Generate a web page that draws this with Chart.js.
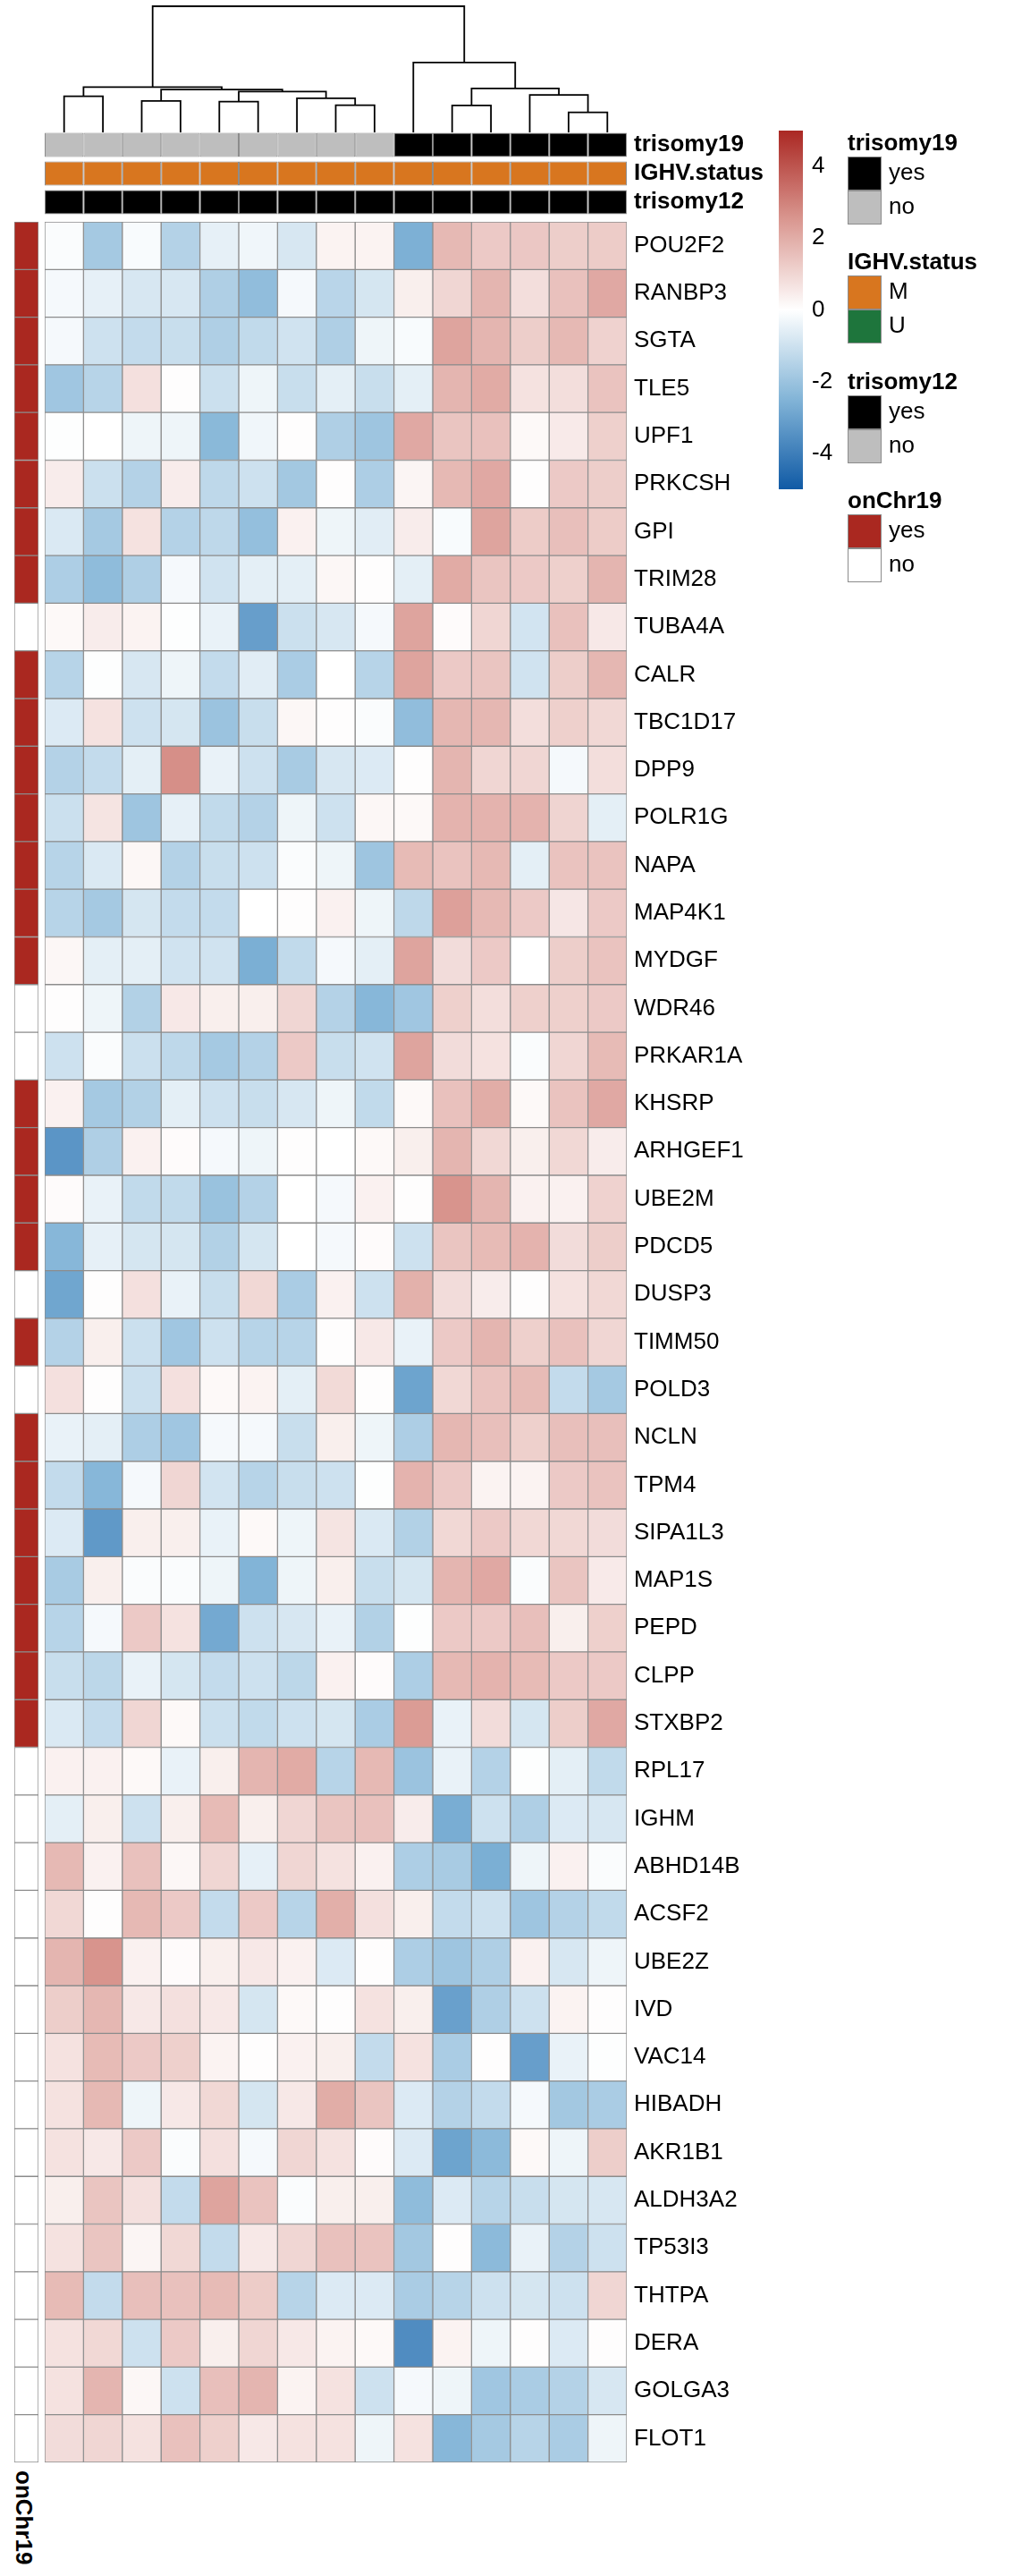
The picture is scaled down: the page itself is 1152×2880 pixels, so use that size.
<!DOCTYPE html>
<html>
<head>
<meta charset="utf-8">
<script src="https://cdn.jsdelivr.net/npm/chart.js@4.4.1/dist/chart.umd.min.js"></script>
<style>
  html, body { margin: 0; padding: 0; background: #fff; }
  body { width: 1152px; height: 2880px; position: relative; overflow: hidden;
         font-family: 'Liberation Sans', Arial, Helvetica, sans-serif; color: #000; }
  canvas { position: absolute; }
  .abs { position: absolute; white-space: nowrap; }
  .lg-title { font-weight: bold; font-size: 26px; line-height: 26px; }
  .lg-box { position: absolute; width: 38px; height: 38px; box-sizing: border-box; border: 1.5px solid #8c8c8c; }
  .lg-label { position: absolute; font-size: 26px; line-height: 38px; }
</style>
</head>
<body>
<canvas id="dendro" width="651" height="148" style="left:50px;top:0px"></canvas>
<canvas id="topAnno" width="901" height="96" style="left:50px;top:146px"></canvas>
<canvas id="heat" width="851" height="2505" style="left:50px;top:248px"></canvas>
<canvas id="chr19" width="27" height="2505" style="left:16px;top:248px"></canvas>
<canvas id="colorbar" width="87" height="401" style="left:871px;top:146px"></canvas>
<div id="legends"></div>
<div class="abs lg-title" style="left:40px;top:2762px;transform-origin:0 0;transform:rotate(90deg)">onChr19</div>

<script>
// ---- data ----
var genes = ['POU2F2', 'RANBP3', 'SGTA', 'TLE5', 'UPF1', 'PRKCSH', 'GPI', 'TRIM28', 'TUBA4A', 'CALR',
  'TBC1D17', 'DPP9', 'POLR1G', 'NAPA', 'MAP4K1', 'MYDGF', 'WDR46', 'PRKAR1A', 'KHSRP', 'ARHGEF1',
  'UBE2M', 'PDCD5', 'DUSP3', 'TIMM50', 'POLD3', 'NCLN', 'TPM4', 'SIPA1L3', 'MAP1S', 'PEPD',
  'CLPP', 'STXBP2', 'RPL17', 'IGHM', 'ABHD14B', 'ACSF2', 'UBE2Z', 'IVD', 'VAC14', 'HIBADH',
  'AKR1B1', 'ALDH3A2', 'TP53I3', 'THTPA', 'DERA', 'GOLGA3', 'FLOT1'];

var onChr19 = ['yes', 'yes', 'yes', 'yes', 'yes', 'yes', 'yes', 'yes', 'no', 'yes',
  'yes', 'yes', 'yes', 'yes', 'yes', 'yes', 'no', 'no', 'yes', 'yes',
  'yes', 'yes', 'no', 'yes', 'no', 'yes', 'yes', 'yes', 'yes', 'yes',
  'yes', 'yes', 'no', 'no', 'no', 'no', 'no', 'no', 'no', 'no',
  'no', 'no', 'no', 'no', 'no', 'no', 'no'];

var trisomy19 = ['no', 'no', 'no', 'no', 'no', 'no', 'no', 'no', 'no', 'yes', 'yes', 'yes', 'yes', 'yes', 'yes'];
var ighvStatus = ['M', 'M', 'M', 'M', 'M', 'M', 'M', 'M', 'M', 'M', 'M', 'M', 'M', 'M', 'M'];
var trisomy12 = ['yes', 'yes', 'yes', 'yes', 'yes', 'yes', 'yes', 'yes', 'yes', 'yes', 'yes', 'yes', 'yes', 'yes', 'yes'];

// row-scaled expression, one row per gene (same order as genes), 15 samples
var zScores = [
  [-0.1, -1.8, -0.15, -1.5, -0.5, -0.3, -0.8, 0.3, 0.3, -2.6, 1.7, 1.3, 1.35, 1.2, 1.25],
  [-0.2, -0.5, -0.8, -0.8, -1.6, -2.2, -0.2, -1.4, -0.85, 0.4, 1.0, 1.8, 0.8, 1.5, 2.1],
  [-0.2, -1.0, -1.2, -1.1, -1.6, -1.25, -0.95, -1.6, -0.35, -0.15, 2.2, 1.8, 1.2, 1.7, 1.1],
  [-1.9, -1.45, 0.75, 0.05, -1.05, -0.35, -1.1, -0.55, -1.1, -0.55, 1.8, 2.05, 0.7, 0.8, 1.45],
  [-0.05, 0, -0.35, -0.35, -2.35, -0.3, 0.05, -1.6, -1.95, 2.1, 1.4, 1.5, 0.15, 0.5, 1.15],
  [0.45, -1.05, -1.5, 0.45, -1.3, -1.0, -1.85, 0.05, -1.65, 0.25, 1.7, 2.1, 0.05, 1.3, 1.2],
  [-0.75, -1.8, 0.7, -1.5, -1.3, -2.15, 0.35, -0.35, -0.6, 0.45, -0.15, 2.2, 1.25, 1.55, 1.25],
  [-1.65, -2.25, -1.6, -0.2, -0.95, -0.55, -0.55, 0.2, 0.05, -0.55, 2.05, 1.4, 1.3, 1.15, 1.8],
  [0.15, 0.45, 0.3, -0.05, -0.45, -3.1, -1.05, -0.8, -0.2, 2.2, 0.1, 1.0, -0.9, 1.5, 0.55],
  [-1.45, -0.05, -0.8, -0.35, -1.2, -0.6, -1.7, 0, -1.45, 2.2, 1.3, 1.4, -0.95, 1.2, 1.75],
  [-0.7, 0.7, -1.0, -0.85, -2.0, -1.1, 0.2, 0.05, -0.1, -2.2, 1.75, 1.75, 0.8, 1.15, 0.95],
  [-1.5, -1.2, -0.55, 2.7, -0.45, -1.0, -1.75, -0.8, -0.7, 0.05, 1.8, 1.0, 1.0, -0.2, 0.8],
  [-1.05, 0.65, -1.95, -0.5, -1.25, -1.5, -0.35, -1.0, 0.2, 0.15, 1.85, 1.85, 1.85, 1.05, -0.55],
  [-1.45, -0.75, 0.2, -1.5, -1.1, -1.0, -0.1, -0.35, -1.95, 1.65, 1.45, 1.7, -0.55, 1.45, 1.45],
  [-1.45, -1.8, -0.85, -1.2, -1.2, 0, 0.05, 0.35, -0.35, -1.3, 2.3, 1.7, 1.3, 0.6, 1.3],
  [0.2, -0.55, -0.55, -0.95, -0.95, -2.65, -1.25, -0.2, -0.55, 2.2, 0.85, 1.3, 0, 1.2, 1.45],
  [0.05, -0.35, -1.55, 0.55, 0.4, 0.4, 1.0, -1.5, -2.4, -1.9, 1.15, 0.8, 1.15, 1.15, 1.3],
  [-1.0, -0.1, -1.05, -1.3, -1.8, -1.5, 1.3, -1.1, -0.95, 2.2, 0.85, 0.7, -0.1, 1.0, 1.65],
  [0.35, -1.8, -1.55, -0.55, -1.0, -1.1, -0.8, -0.35, -1.25, 0.15, 1.5, 2.0, 0.15, 1.45, 2.1],
  [-3.35, -1.6, 0.35, 0.1, -0.2, -0.35, 0.05, 0, 0.15, 0.4, 1.8, 0.95, 0.4, 0.95, 0.45],
  [0.1, -0.45, -1.25, -1.25, -2.05, -1.5, 0, -0.2, 0.35, 0.05, 2.6, 1.8, 0.35, 0.35, 1.1],
  [-2.4, -0.5, -0.85, -0.85, -1.55, -0.85, 0, -0.2, 0.1, -1.0, 1.4, 1.65, 1.85, 0.85, 1.2],
  [-2.9, 0.05, 0.75, -0.45, -1.1, 0.95, -1.7, 0.35, -1.0, 1.9, 0.85, 0.45, 0.05, 0.7, 0.95],
  [-1.5, 0.4, -1.05, -1.9, -1.0, -1.45, -1.45, 0.05, 0.55, -0.45, 1.3, 1.8, 1.15, 1.5, 1.0],
  [0.75, 0.05, -1.05, 0.75, 0.15, 0.3, -0.55, 0.9, 0.05, -2.95, 0.95, 1.45, 1.65, -1.2, -1.8],
  [-0.45, -0.55, -1.65, -1.9, -0.2, -0.2, -1.1, 0.4, -0.35, -1.65, 1.75, 1.55, 1.15, 1.55, 1.55],
  [-1.2, -2.4, -0.2, 1.0, -0.9, -1.45, -1.1, -1.0, -0.05, 1.85, 1.3, 0.3, 0.3, 1.3, 1.45],
  [-0.7, -3.25, 0.4, 0.4, -0.45, 0.15, -0.35, 0.65, -0.75, -1.55, 0.95, 1.3, 0.95, 0.95, 0.85],
  [-1.75, 0.4, -0.1, -0.1, -0.35, -2.5, -0.35, 0.4, -1.1, -0.85, 1.8, 2.1, -0.1, 1.4, 0.5],
  [-1.45, -0.2, 1.3, 0.7, -2.8, -1.0, -0.8, -0.45, -1.55, -0.05, 1.3, 1.3, 1.55, 0.4, 1.15],
  [-1.1, -1.35, -0.45, -0.85, -1.2, -1.0, -1.35, 0.35, 0.1, -1.65, 1.7, 1.85, 1.65, 1.3, 1.3],
  [-0.75, -1.2, 1.0, 0.15, -1.05, -1.25, -1.0, -0.85, -1.7, 2.4, -0.45, 0.85, -0.85, 1.2, 2.1],
  [0.35, 0.35, 0.15, -0.45, 0.4, 1.8, 2.05, -1.45, 1.7, -2.0, -0.45, -1.5, -0.05, -0.55, -1.25],
  [-0.55, 0.4, -1.0, 0.4, 1.65, 0.4, 1.0, 1.4, 1.5, 0.45, -2.7, -1.0, -1.6, -0.7, -0.8],
  [1.7, 0.35, 1.5, 0.2, 1.0, -0.5, 1.0, 0.7, 0.35, -1.65, -1.75, -2.65, -0.35, 0.35, -0.1],
  [0.95, 0.05, 1.7, 1.3, -1.2, 1.3, -1.45, 1.95, 0.75, 0.4, -1.2, -1.0, -1.95, -1.5, -1.25],
  [1.8, 2.6, 0.35, 0.1, 0.4, 0.55, 0.35, -0.7, 0.05, -1.65, -1.95, -1.6, 0.35, -0.8, -0.35],
  [1.2, 1.75, 0.55, 0.75, 0.55, -0.85, 0.15, 0.05, 0.7, 0.4, -3.05, -1.6, -1.0, 0.3, 0.05],
  [0.7, 1.65, 1.3, 1.15, 0.3, 0.05, 0.35, 0.4, -1.2, 0.7, -1.7, 0.05, -3.1, -0.45, -0.05],
  [0.7, 1.7, -0.35, 0.55, 0.95, -0.85, 0.55, 2.0, 1.4, -0.7, -1.5, -1.2, -0.2, -1.85, -1.7],
  [0.7, 0.55, 1.3, -0.1, 0.75, -0.2, 1.0, 0.7, 0.1, -0.7, -2.95, -2.3, 0.15, -0.35, 1.2],
  [0.4, 1.4, 0.75, -1.2, 2.2, 1.45, -0.1, 0.4, 0.4, -2.25, -0.7, -1.45, -1.1, -0.85, -0.8],
  [0.7, 1.4, 0.25, 0.95, -1.2, 0.55, 1.0, 1.5, 1.45, -1.85, 0.05, -2.3, -0.45, -1.5, -1.0],
  [1.65, -1.2, 1.55, 1.5, 1.65, 1.25, -1.45, -0.7, -0.7, -1.7, -1.45, -1.0, -0.85, -1.0, 1.0],
  [0.7, 0.95, -1.0, 1.3, 0.4, 1.0, 0.55, 0.3, 0.15, -3.6, 0.3, -0.35, 0.05, -0.7, 0.05],
  [0.7, 1.8, 0.2, -1.0, 1.55, 1.8, 0.3, 0.7, -1.0, -0.2, -0.35, -1.9, -1.7, -1.5, -0.8],
  [0.85, 1.0, 0.7, 1.5, 1.15, 0.55, 0.7, 0.7, -0.35, 0.7, -2.4, -1.8, -1.45, -1.7, -0.35]
];

// column dendrogram, hclust style: negative = leaf (1-based column), positive = earlier merge
var dendroMerges = [
  [-1, -2, 2.87],
  [-3, -4, 2.49],
  [-5, -6, 2.44],
  [-8, -9, 2.16],
  [-7, 4, 2.71],
  [3, 5, 3.23],
  [2, 6, 3.40],
  [1, 7, 3.59],
  [-11, -12, 2.14],
  [-14, -15, 1.59],
  [-13, 10, 2.97],
  [9, 11, 3.49],
  [-10, 12, 5.54],
  [8, 13, 10.0]
];

var colorbarRange = [-5, 5];
var colorbarTicks = [-4, -2, 0, 2, 4];

// ---- styles ----
var FONT = "'Liberation Sans', Arial, Helvetica, sans-serif";
var GRID = '#8c8c8c';
var zStops = [[-5, [16, 90, 165]], [-2.5, [130, 180, 215]], [0, [255, 255, 255]], [2.5, [218, 152, 145]], [5, [170, 40, 35]]];
var trisomyColors = { yes: '#000000', no: '#bebebe' };
var ighvColors = { M: '#d8761f', U: '#1e753c' };
var chr19Colors = { yes: '#aa2820', no: '#ffffff' };

Chart.defaults.font.family = FONT;
Chart.defaults.animation = false;
Chart.defaults.plugins.legend.display = false;
Chart.defaults.plugins.tooltip.enabled = false;

function rgb(c) { return 'rgb(' + c.map(Math.round).join(',') + ')'; }
function zColor(v) {
  if (v <= zStops[0][0]) return rgb(zStops[0][1]);
  for (var i = 1; i < zStops.length; i++) {
    if (v <= zStops[i][0]) {
      var a = zStops[i - 1], b = zStops[i];
      var t = (v - a[0]) / (b[0] - a[0]);
      return rgb(a[1].map(function (x, k) { return x + (b[1][k] - x) * t; }));
    }
  }
  return rgb(zStops[zStops.length - 1][1]);
}
function noPad(scale, w) { scale.width = w; scale.paddingTop = 0; scale.paddingBottom = 0; }

var nSamples = trisomy19.length;
var sampleIdx = trisomy19.map(function (_, j) { return j; });

// ---- dendrogram ----
var nodeX = [], nodeH = [];
function childPos(id) { return id < 0 ? [-id - 1, 0] : [nodeX[id - 1], nodeH[id - 1]]; }
var dendroSets = dendroMerges.map(function (m) {
  var l = childPos(m[0]), r = childPos(m[1]);
  nodeX.push((l[0] + r[0]) / 2);
  nodeH.push(m[2]);
  return {
    data: [{ x: l[0], y: l[1] }, { x: l[0], y: m[2] }, { x: r[0], y: m[2] }, { x: r[0], y: r[1] }],
    showLine: true, borderColor: '#000', borderWidth: 1.8, pointRadius: 0, fill: false, clip: false
  };
});
new Chart(document.getElementById('dendro'), {
  type: 'scatter',
  data: { datasets: dendroSets },
  options: {
    responsive: false,
    layout: { padding: { top: 7 } },
    scales: {
      x: { type: 'linear', min: -0.5, max: nSamples - 0.5, display: false },
      y: { type: 'linear', min: 0, max: 10, display: false }
    }
  }
});

// ---- top annotations ----
var annoRows = [trisomy19, ighvStatus, trisomy12];
var annoMaps = [trisomyColors, ighvColors, trisomyColors];
new Chart(document.getElementById('topAnno'), {
  type: 'bar',
  data: {
    labels: ['trisomy19', 'IGHV.status', 'trisomy12'],
    datasets: sampleIdx.map(function (j) {
      return {
        data: annoRows.map(function () { return 1; }),
        backgroundColor: annoRows.map(function (row, r) { return annoMaps[r][row[j]]; }),
        borderColor: GRID, borderWidth: 1, borderSkipped: false,
        barPercentage: 0.84, categoryPercentage: 1
      };
    })
  },
  options: {
    indexAxis: 'y', responsive: false, layout: { padding: 0 },
    scales: {
      x: { stacked: true, display: false, min: 0, max: nSamples },
      y: {
        stacked: true, position: 'right',
        grid: { display: false, drawTicks: false }, border: { display: false },
        ticks: { color: '#000', font: { size: 26, weight: 'bold' }, padding: 8, autoSkip: false },
        afterFit: function (s) { noPad(s, 250); }
      }
    }
  }
});

// ---- heatmap ----
new Chart(document.getElementById('heat'), {
  type: 'bar',
  data: {
    labels: genes,
    datasets: sampleIdx.map(function (j) {
      return {
        data: genes.map(function () { return 1; }),
        backgroundColor: zScores.map(function (row) { return zColor(row[j]); }),
        borderColor: GRID, borderWidth: 1, borderSkipped: false,
        barPercentage: 1, categoryPercentage: 1
      };
    })
  },
  options: {
    indexAxis: 'y', responsive: false, layout: { padding: 0 },
    scales: {
      x: { stacked: true, display: false, min: 0, max: nSamples },
      y: {
        stacked: true, position: 'right',
        grid: { display: false, drawTicks: false }, border: { display: false },
        ticks: { color: '#000', font: { size: 26 }, padding: 8, autoSkip: false },
        afterFit: function (s) { noPad(s, 200); }
      }
    }
  }
});

// ---- onChr19 row annotation ----
new Chart(document.getElementById('chr19'), {
  type: 'bar',
  data: {
    labels: genes,
    datasets: [{
      data: genes.map(function () { return 1; }),
      backgroundColor: onChr19.map(function (v) { return chr19Colors[v]; }),
      borderColor: GRID, borderWidth: 1, borderSkipped: false,
      barPercentage: 1, categoryPercentage: 1
    }]
  },
  options: {
    indexAxis: 'y', responsive: false, layout: { padding: 0 },
    scales: { x: { display: false, min: 0, max: 1 }, y: { display: false } }
  }
});

// ---- colour bar ----
new Chart(document.getElementById('colorbar'), {
  type: 'bar',
  data: {
    labels: [''],
    datasets: [{
      data: [colorbarRange],
      borderWidth: 0, barPercentage: 1, categoryPercentage: 1,
      backgroundColor: function (ctx) {
        var chart = ctx.chart, y = chart.scales.y;
        if (!chart.chartArea || !y) return 'transparent';
        var lo = colorbarRange[0], hi = colorbarRange[1];
        var g = chart.ctx.createLinearGradient(0, y.getPixelForValue(lo), 0, y.getPixelForValue(hi));
        for (var v = lo; v <= hi + 1e-9; v += 0.25) g.addColorStop((v - lo) / (hi - lo), zColor(v));
        return g;
      }
    }]
  },
  options: {
    responsive: false, layout: { padding: 0 },
    scales: {
      x: { display: false },
      y: {
        min: colorbarRange[0], max: colorbarRange[1], position: 'right',
        grid: { display: false, drawTicks: false }, border: { display: false },
        ticks: { color: '#000', font: { size: 26 }, padding: 10 },
        afterBuildTicks: function (s) { s.ticks = colorbarTicks.map(function (v) { return { value: v }; }); },
        afterFit: function (s) { noPad(s, 60); }
      }
    }
  }
});

// ---- discrete legends ----
var legendGroups = [
  { title: 'trisomy19', items: [['yes', trisomyColors.yes], ['no', trisomyColors.no]] },
  { title: 'IGHV.status', items: [['M', ighvColors.M], ['U', ighvColors.U]] },
  { title: 'trisomy12', items: [['yes', trisomyColors.yes], ['no', trisomyColors.no]] },
  { title: 'onChr19', items: [['yes', chr19Colors.yes], ['no', chr19Colors.no]] }
];
var legendTops = [146, 279, 413, 546];
var host = document.getElementById('legends');
legendGroups.forEach(function (grp, gi) {
  var top = legendTops[gi];
  var t = document.createElement('div');
  t.className = 'abs lg-title';
  t.style.left = '948px'; t.style.top = top + 'px';
  t.textContent = grp.title;
  host.appendChild(t);
  grp.items.forEach(function (it, k) {
    var by = top + 29 + k * 38;
    var b = document.createElement('div');
    b.className = 'lg-box';
    b.style.left = '948px'; b.style.top = by + 'px'; b.style.background = it[1];
    host.appendChild(b);
    var l = document.createElement('div');
    l.className = 'lg-label';
    l.style.left = '994px'; l.style.top = (by - 2) + 'px';
    l.textContent = it[0];
    host.appendChild(l);
  });
});
</script>
</body>
</html>
